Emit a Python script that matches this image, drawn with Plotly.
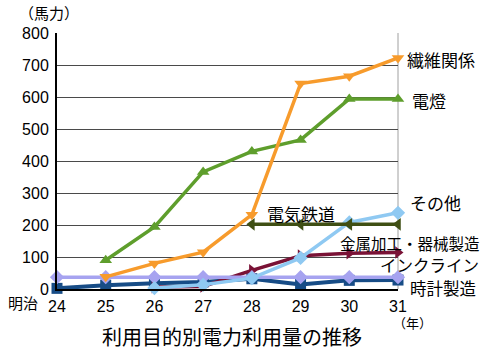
import plotly.graph_objects as go

years = [24, 25, 26, 27, 28, 29, 30, 31]
year_labels = ["24", "25", "26", "27", "28", "29", "30", "31"]

textile = [None, 38, 80, 115, 232, 642, 665, 722]        # 繊維関係
lighting = [None, 90, 194, 366, 430, 466, 594, 594]      # 電燈
railway = [None, None, None, None, 202, 202, 202, 202]   # 電気鉄道
other = [None, None, 3, 13, 34, 97, 208, 238]            # その他
metal = [None, None, 6, 8, 58, 104, 112, 114]            # 金属加工・器械製造
incline = [37, 37, 37, 37, 37, 37, 37, 37]               # インクライン
clock = [2, 12, 18, 22, 32, 14, 27, 28]                  # 時計製造

y_ticks = [0, 100, 200, 300, 400, 500, 600, 700, 800]

FONT = "Liberation Sans, Noto Sans CJK JP, sans-serif"
CJK = "Noto Sans CJK JP, sans-serif"

# plot area in pixels
L, R, T, B = 57, 398, 33, 289
W, H = 500, 354


def px(x):
    return (x - L) / (R - L)


def py(y):
    return (B - y) / (B - T)


series = [
    ("時計製造", clock, "#174C86", "square", 4),
    ("金属加工・器械製造", metal, "#7A1236", "triangle-right", 3.5),
    ("インクライン", incline, "#A6A3F0", "diamond", 3.5),
    ("その他", other, "#8FC9F2", "diamond", 3.5),
    ("電気鉄道", railway, "#3F4F14", "triangle-left", 3.5),
    ("電燈", lighting, "#5E9E2C", "triangle-up", 3.5),
    ("繊維関係", textile, "#F79B2C", "triangle-down", 3.5),
]

fig = go.Figure()
for name, vals, color, sym, lw in series:
    fig.add_trace(go.Scatter(
        x=years, y=vals, name=name, mode="lines+markers",
        line=dict(color=color, width=lw),
        marker=dict(color=color, symbol=sym, size=11),
        cliponaxis=False, showlegend=False,
    ))

fig.update_layout(
    width=W, height=H,
    margin=dict(l=L, r=W - R, t=T, b=H - B),
    paper_bgcolor="white", plot_bgcolor="white",
    font=dict(family=FONT, color="black"),
    xaxis=dict(
        range=[24, 31], tickvals=years, ticktext=year_labels,
        showgrid=False, zeroline=False, showline=True,
        linecolor="black", linewidth=1.5, ticks="",
        tickfont=dict(size=16, family=FONT), ticklabelstandoff=2,
    ),
    yaxis=dict(
        range=[0, 800], tickvals=y_ticks,
        showgrid=True, gridcolor="#4a4a4a", gridwidth=1,
        zeroline=False, showline=True, linecolor="black", linewidth=2,
        ticks="", tickfont=dict(size=16, family=FONT), ticklabelstandoff=3,
    ),
)

# right border of plot area
fig.add_shape(type="line", xref="paper", yref="paper", x0=1, x1=1, y0=0, y1=1,
              line=dict(color="#a0a0a0", width=1), layer="below")

labels = [
    ("（馬力）", 17, 12, 15, "left"),
    ("繊維関係", 405, 59, 17, "left"),
    ("電燈", 410, 100, 17, "left"),
    ("その他", 408, 202, 17, "left"),
    ("電気鉄道", 265, 213, 17, "left"),
    ("金属加工・器械製造", 338, 243, 15.5, "left"),
    ("インクライン", 378, 265, 16.5, "left"),
    ("時計製造", 408, 288, 16.5, "left"),
    ("明治", 6, 302, 15, "left"),
    ("（年）", 412, 322, 13, "center"),
    ("利用目的別電力利用量の推移", 232, 336, 20, "center"),
]
for text, x, y, size, anchor in labels:
    fig.add_annotation(
        text=text, xref="paper", yref="paper", x=px(x), y=py(y),
        xanchor=anchor, yanchor="middle", showarrow=False,
        font=dict(size=size, family=CJK, color="black"),
    )

fig.write_html("out.html")
